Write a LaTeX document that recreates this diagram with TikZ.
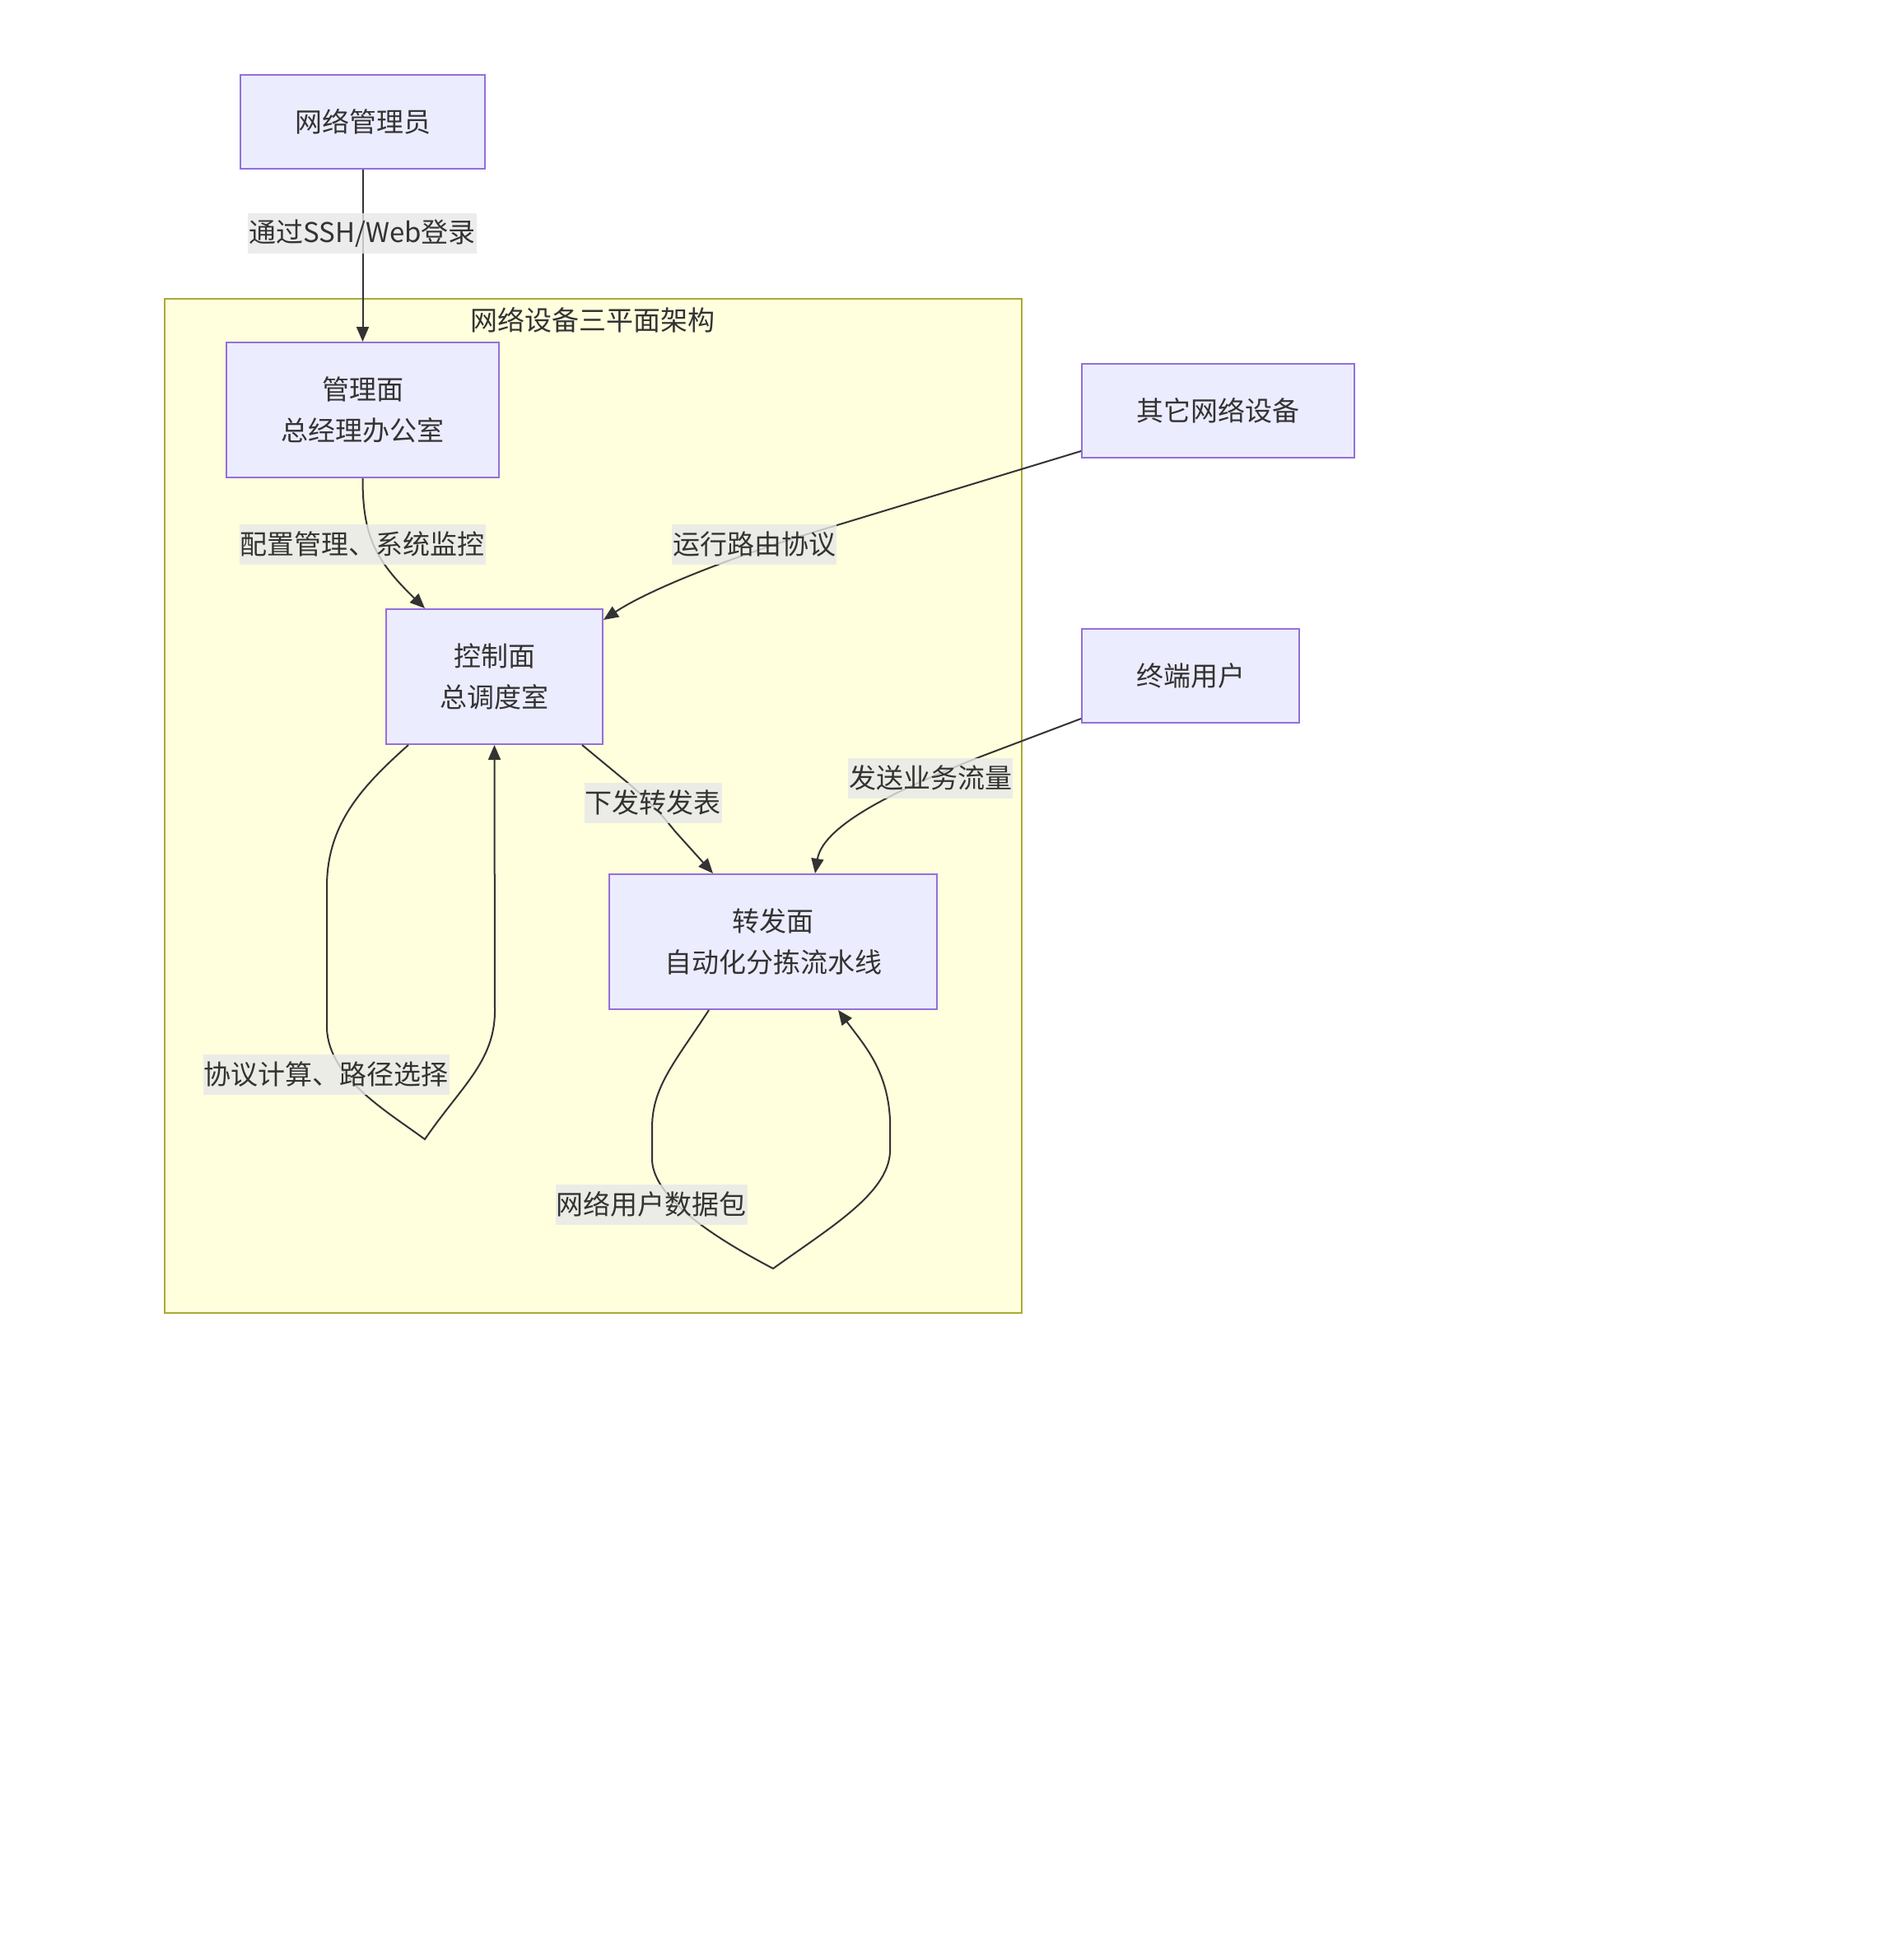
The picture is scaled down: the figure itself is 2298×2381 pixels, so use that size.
\documentclass[tikz,border=0pt]{standalone}
\usepackage{fontspec}
\setmainfont{Noto Sans CJK SC}
\usetikzlibrary{arrows.meta}
\definecolor{boxfill}{HTML}{ECECFF}
\definecolor{boxline}{HTML}{9370DB}
\definecolor{clfill}{HTML}{FFFFDE}
\definecolor{clline}{HTML}{AAAA33}
\definecolor{lblfill}{HTML}{E8E8E8}
\definecolor{txt}{HTML}{333333}
\begin{document}
\begin{tikzpicture}[x=1pt,y=-1pt,
 font=\fontsize{33}{50}\selectfont,
 box/.style={draw=boxline, fill=boxfill, line width=2pt, text=txt, align=center, inner sep=0pt},
 lbl/.style={fill=lblfill, fill opacity=0.8, text opacity=1, text=txt, inner xsep=1pt, inner ysep=0pt, minimum height=49pt},
 edge/.style={draw=txt, line width=2pt, -{Triangle[length=18pt,width=15pt]}},
 plainedge/.style={draw=txt, line width=2pt}]
\useasboundingbox[fill=white] (0,0) rectangle (2298,2381);
\node[draw=clline, fill=clfill, line width=2pt, minimum width=1041pt, minimum height=1232pt, inner sep=0pt] (cluster) at (720.5,979) {};
\node[text=txt] (title) at (720,389) {网络设备三平面架构};
\node[box, minimum width=297pt, minimum height=114pt] (admin) at (440.5,148) {网络管理员};
\node[box, minimum width=331pt, minimum height=164pt] (mgmt) at (440.5,498) {管理面\\总经理办公室};
\node[box, minimum width=263pt, minimum height=164pt] (ctrl) at (600.5,822) {控制面\\总调度室};
\node[box, minimum width=398pt, minimum height=164pt] (fwd) at (939,1144) {转发面\\自动化分拣流水线};
\node[box, minimum width=331pt, minimum height=114pt] (other) at (1479.5,499) {其它网络设备};
\node[box, minimum width=264pt, minimum height=114pt] (term) at (1446,821) {终端用户};
% edges
\draw[edge] (admin) -- (mgmt);
\draw[edge] (mgmt.south) .. controls (440.5,650) and (455,680) .. ([xshift=48pt]ctrl.north west);
\draw[edge] ([yshift=9pt]other.south west) -- (1010,640) .. controls (900,672) and (790,715) .. ([yshift=-14pt]ctrl.north east);
\draw[edge] ([xshift=-26pt]ctrl.south east) -- (765,953) .. controls (790,975) and (800,985) .. (820,1010) -- ([xshift=127pt]fwd.north west);
\draw[edge] ([yshift=6pt]term.south west) -- (1194,918) .. controls (1100,955) and (1000,1000) .. ([xshift=-149pt]fwd.north east);
\draw[edge] ([xshift=28pt]ctrl.south west) .. controls (440,955) and (398,1000) .. (397,1075) -- (397,1250) .. controls (400,1310) and (470,1350) .. (516,1384) .. controls (560,1320) and (600,1290) .. (601,1230) -- (ctrl.south);
\draw[edge] ([xshift=-78pt]fwd.south) .. controls (820,1290) and (792,1320) .. (792,1370) -- (792,1410) .. controls (795,1460) and (880,1510) .. (939,1541) .. controls (1010,1490) and (1078,1450) .. (1081,1400) -- (1081,1360) .. controls (1078,1300) and (1050,1270) .. ([xshift=79pt]fwd.south);
% labels
\node[lbl] (l1) at (440,284) {通过SSH/Web登录};
\node[lbl] (l2) at (440,661) {配置管理、系统监控};
\node[lbl] (l3) at (916,661) {运行路由协议};
\node[lbl] (l4) at (793,975) {下发转发表};
\node[lbl] (l5) at (1130,945) {发送业务流量};
\node[lbl] (l6) at (396,1305) {协议计算、路径选择};
\node[lbl] (l7) at (791,1463) {网络用户数据包};
\end{tikzpicture}
\end{document}
